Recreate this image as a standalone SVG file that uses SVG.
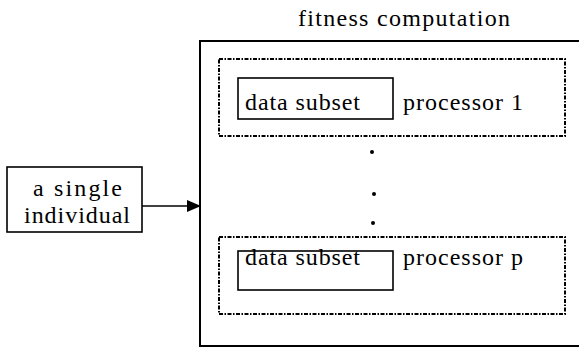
<svg xmlns="http://www.w3.org/2000/svg" width="579" height="348" viewBox="0 0 579 348">
<defs>
<style>
text{font-family:'Liberation Serif','Times New Roman','DejaVu Serif',serif;font-size:24px;fill:#000}
.box{fill:none;stroke:#000;stroke-width:2}
.thin{fill:none;stroke:#000;stroke-width:1.6}
.dash{fill:none;stroke:#000;stroke-width:2;stroke-dasharray:4 1.5 1.5 1.5}
</style>
<marker id="ah" markerWidth="14" markerHeight="12" refX="13" refY="6" orient="auto" markerUnits="userSpaceOnUse">
<path d="M0,0 L14,6 L0,12 Z" fill="#000"/>
</marker>
</defs>
<rect width="579" height="348" fill="#fff"/>
<g id="fitness">
<text x="298" y="26" textLength="212" lengthAdjust="spacing">fitness  computation</text>
<rect class="box" x="200" y="41" width="382" height="305"/>
</g>
<g id="proc1">
<rect class="dash" x="219" y="59" width="346" height="77"/>
<rect class="thin" x="238" y="78" width="155" height="41"/>
<text x="245" y="110" textLength="115" lengthAdjust="spacing">data subset</text>
<text x="403" y="110" textLength="120" lengthAdjust="spacing">processor 1</text>
</g>
<g id="dots">
<circle cx="372" cy="152" r="2"/>
<circle cx="374" cy="194" r="2"/>
<circle cx="373" cy="223" r="2"/>
</g>
<g id="procp">
<rect class="dash" x="219" y="237" width="346" height="77"/>
<rect class="thin" x="238" y="251" width="155" height="39"/>
<text x="245" y="265" textLength="115" lengthAdjust="spacing">data subset</text>
<text x="403" y="265" textLength="120" lengthAdjust="spacing">processor p</text>
</g>
<g id="individual">
<rect class="thin" x="7" y="167" width="135" height="65"/>
<text x="33" y="196" textLength="89" lengthAdjust="spacing">a  single</text>
<text x="24" y="223" textLength="106" lengthAdjust="spacing">individual</text>
</g>
<g id="connectors">
<line x1="142" y1="206" x2="200" y2="206" stroke="#000" stroke-width="1.6" marker-end="url(#ah)"/>
</g>
</svg>
